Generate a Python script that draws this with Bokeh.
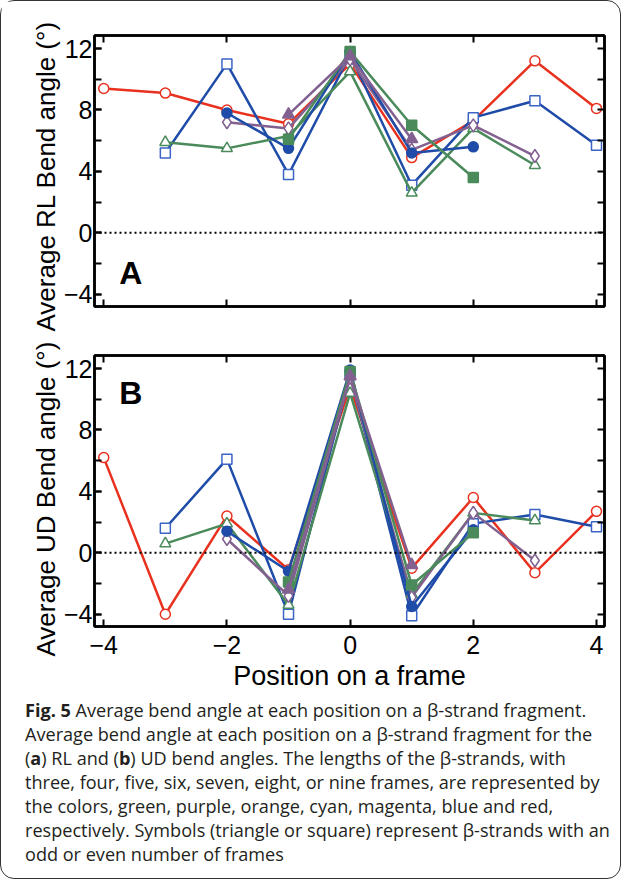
from bokeh.plotting import figure
from bokeh.models import FixedTicker, LinearAxis, Span, Label, Title, Div, Range1d
from bokeh.layouts import column
from bokeh.embed import file_html
from bokeh.resources import INLINE

# ---------------- data ----------------
pos_9 = [-4, -3, -2, -1, 0, 1, 2, 3, 4]
pos_8 = [-3, -2, -1, 0, 1, 2, 3, 4]
pos_7 = [-3, -2, -1, 0, 1, 2, 3]
pos_6 = [-2, -1, 0, 1, 2, 3]
pos_5 = [-2, -1, 0, 1, 2]
pos_4 = [-1, 0, 1, 2]
pos_3 = [-1, 0, 1]

# RL bend angle (panel A)
rl_9 = [9.4, 9.1, 8.0, 7.1, 11.0, 4.9, 7.3, 11.2, 8.1]
rl_8 = [5.2, 11.0, 3.8, 11.6, 3.1, 7.5, 8.6, 5.7]
rl_7 = [5.9, 5.5, 6.3, 10.5, 2.6, 6.8, 4.4]
rl_6 = [7.2, 6.8, 11.3, 5.4, 7.0, 5.0]
rl_5 = [7.8, 5.5, 11.8, 5.2, 5.6]
rl_4 = [6.1, 11.8, 7.0, 3.6]
rl_3 = [7.7, 11.5, 6.1]

# UD bend angle (panel B)
ud_9 = [6.2, -4.0, 2.4, -1.1, 10.8, -1.0, 3.6, -1.3, 2.7]
ud_8 = [1.6, 6.1, -4.0, 11.6, -4.1, 1.9, 2.5, 1.7]
ud_7 = [0.6, 1.9, -3.4, 10.4, -2.7, 2.6, 2.1]
ud_6 = [0.9, -2.8, 11.4, -2.9, 2.6, -0.5]
ud_5 = [1.4, -1.2, 11.9, -3.5, 1.5]
ud_4 = [-1.9, 11.8, -2.1, 1.3]
ud_3 = [-2.4, 11.5, -0.8]

x_ticks = [-4, -2, 0, 2, 4]
x_tick_labels = ["\u22124", "\u22122", "0", "2", "4"]
y_ticks = [-4, 0, 4, 8, 12]
y_tick_labels = ["\u22124", "0", "4", "8", "12"]
y_minor_ticks = [-4, -2, 0, 2, 4, 6, 8, 10, 12]

# ---------------- styles ----------------
RED = "#e8321f"
BLUE = "#1f4ca8"
BLUE2 = "#3b64c6"
GREEN = "#4a8a5b"
PURPLE = "#826190"

series_style = [
    # marker, color, outline color, filled, size
    ("circle", RED, RED, False, 10),
    ("square", BLUE, BLUE2, False, 10),
    ("triangle", GREEN, GREEN, False, 11),
    ("diamond", PURPLE, PURPLE, False, 13),
    ("circle", BLUE, BLUE, True, 10),
    ("square", GREEN, GREEN, True, 10),
    ("triangle", PURPLE, PURPLE, True, 12),
]
positions = [pos_9, pos_8, pos_7, pos_6, pos_5, pos_4, pos_3]

TICK_FONT = "Liberation Sans"
LABEL_FONT = "Liberation Sans"


def tick_only_axis(ticks):
    return LinearAxis(ticker=FixedTicker(ticks=[], minor_ticks=ticks),
                      minor_tick_in=7, minor_tick_out=0,
                      minor_tick_line_width=2, minor_tick_line_color="black",
                      major_tick_line_color=None, axis_line_width=2.5,
                      major_label_standoff=0)


def make_panel(values, ylabel, ylabel_offset, letter, letter_xy, height,
               mb_top, mb_bottom, show_xlabels):
    p = figure(width=609, height=height,
               x_range=Range1d(-4.15, 4.13), y_range=Range1d(-4.8, 12.85),
               output_backend="svg", toolbar_location=None,
               min_border_left=93, min_border_right=6,
               min_border_top=mb_top, min_border_bottom=mb_bottom,
               background_fill_color="white", border_fill_color="white",
               x_axis_location=None)
    p.xgrid.visible = False
    p.ygrid.visible = False
    p.outline_line_color = "black"
    p.outline_line_width = 2.5

    if show_xlabels:
        xb = LinearAxis(ticker=FixedTicker(ticks=x_ticks),
                        major_label_overrides=dict(zip(x_ticks, x_tick_labels)),
                        major_tick_in=7, major_tick_out=0,
                        major_tick_line_width=2, minor_tick_line_color=None,
                        axis_line_width=2.5,
                        major_label_text_font=TICK_FONT,
                        major_label_text_font_size="25px",
                        major_label_text_color="black",
                        major_label_standoff=9,
                        axis_label="Position on a frame",
                        axis_label_text_font=LABEL_FONT,
                        axis_label_text_font_size="27px",
                        axis_label_text_font_style="normal",
                        axis_label_text_color="black",
                        axis_label_standoff=4)
    else:
        xb = tick_only_axis(x_ticks)
    p.add_layout(xb, "below")

    for ax in p.yaxis:
        ax.ticker = FixedTicker(ticks=y_ticks, minor_ticks=y_minor_ticks)
        ax.major_label_overrides = dict(zip(y_ticks, y_tick_labels))
        ax.major_tick_in = 7
        ax.major_tick_out = 0
        ax.minor_tick_in = 7
        ax.minor_tick_out = 0
        ax.minor_tick_line_width = 2
        ax.minor_tick_line_color = "black"
        ax.axis_line_width = 2.5
        ax.major_tick_line_width = 2
        ax.major_label_text_font = TICK_FONT
        ax.major_label_text_font_size = "25px"
        ax.major_label_standoff = 2
        ax.major_label_text_color = "black"

    p.add_layout(tick_only_axis(x_ticks), "above")
    p.add_layout(tick_only_axis(y_minor_ticks), "right")

    p.add_layout(Title(text=ylabel, align="left", offset=ylabel_offset, standoff=0,
                       text_font=LABEL_FONT, text_font_size="26px",
                       text_font_style="normal", text_color="black"), "left")

    p.add_layout(Span(location=0, dimension="width", line_color="black",
                      line_width=2, line_dash="2 3"))

    for xs, ys, (mk, col, ocol, filled, sz) in zip(positions, values, series_style):
        p.line(xs, ys, line_color=col, line_width=2.5)
        p.scatter(xs, ys, marker=mk, size=sz,
                  fill_color=col if filled else "white",
                  line_color=ocol, line_width=1.5)

    p.add_layout(Label(x=letter_xy[0], y=letter_xy[1], text=letter,
                       text_font=LABEL_FONT, text_font_size="32px",
                       text_font_style="bold", text_color="black",
                       text_baseline="middle", text_align="left"))
    return p


pA = make_panel([rl_9, rl_8, rl_7, rl_6, rl_5, rl_4, rl_3],
                "Average RL Bend angle (\u00b0)", -25, "A", (-3.75, -2.64),
                342, 34, 37, False)
pB = make_panel([ud_9, ud_8, ud_7, ud_6, ud_5, ud_4, ud_3],
                "Average UD Bend angle (\u00b0)", -30, "B", (-3.75, 10.4),
                361, 12, 78, True)

caption_html = (
    '<div style="font-family:\'Open Sans\'; font-size:18.1px; line-height:24px; '
    'color:#231f20; padding:0 0 0 19px; white-space:nowrap; position:relative; top:-11px;">'
    '<b>Fig. 5</b> Average bend angle at each position on a \u03b2-strand fragment.<br>'
    'Average bend angle at each position on a \u03b2-strand fragment for the<br>'
    '(<b>a</b>) RL and (<b>b</b>) UD bend angles. The lengths of the \u03b2-strands, with<br>'
    'three, four, five, six, seven, eight, or nine frames, are represented by<br>'
    'the colors, green, purple, orange, cyan, magenta, blue and red,<br>'
    'respectively. Symbols (triangle or square) represent \u03b2-strands with an<br>'
    'odd or even number of frames</div>'
)
cap = Div(text=caption_html, width=609, height=164)

layout = column(pA, pB, cap,
                styles={"border": "1.5px solid #333333",
                        "border-radius": "14px"})

open("out.html", "w").write(file_html(layout, INLINE))
